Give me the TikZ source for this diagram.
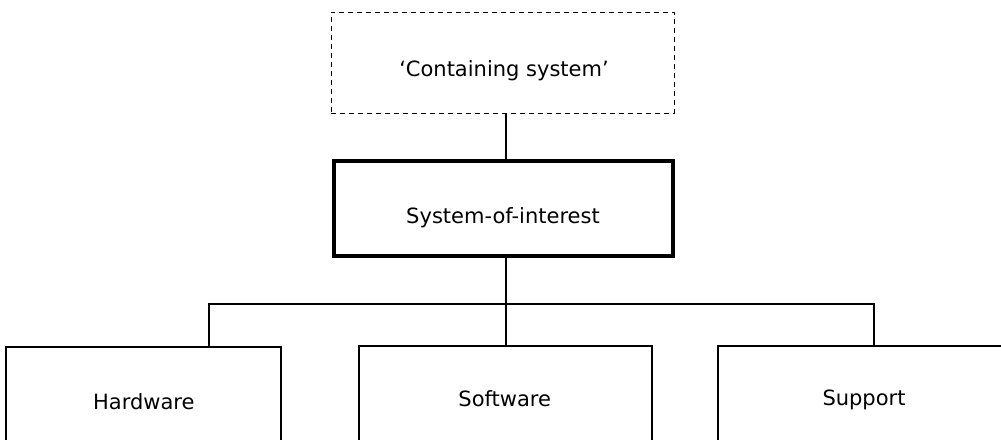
\documentclass[tikz,border=0pt]{standalone}
\usepackage{fontspec}
\setmainfont{DejaVu Sans}
\begin{document}
\begin{tikzpicture}[x=1pt,y=-1pt,
  lbl/.style={font=\fontsize{21}{25}\selectfont, anchor=base, inner sep=0pt},
  dbox/.style={draw, dashed, dash pattern=on 5pt off 4pt, line width=1pt, inner sep=0pt},
  mainbox/.style={draw, line width=3.5pt, inner sep=0pt},
  partbox/.style={draw, line width=2.5pt, inner sep=0pt},
  link/.style={line width=1.8pt}]
\useasboundingbox (0,0) rectangle (1001,439);
\clip (0,0) rectangle (1001,439);

% boxes
\node[dbox, minimum width=343pt, minimum height=101pt] (cont) at (502.5,62.5) {};
\node[mainbox, minimum width=339pt, minimum height=95pt] (soi) at (503.5,208.5) {};
\node[partbox, minimum width=275pt, minimum height=120pt] (hw) at (143.5,407) {};
\node[partbox, minimum width=293pt, minimum height=120pt] (sw) at (505.5,406) {};
\node[partbox, minimum width=292pt, minimum height=120pt] (sp) at (864,406) {};

% labels
\node[lbl] (tcont) at (504,76) {‘Containing system’};
\node[lbl] (tsoi) at (503,223) {System-of-interest};
\node[lbl] (thw) at (143.8,409) {Hardware};
\node[lbl] (tsw) at (504.7,406) {Software};
\node[lbl] (tsp) at (864,405.7) {Support};

% tree connectors
\coordinate (bus) at (506,304);
\draw[link] (cont.south -| bus) -- (soi.north -| bus);
\draw[link] (soi.south -| bus) -- (sw.north -| bus);
\draw[link] (hw.north -| 209,0) -- (209,304) -- (874,304) -- (sp.north -| 874,0);
\end{tikzpicture}
\end{document}
